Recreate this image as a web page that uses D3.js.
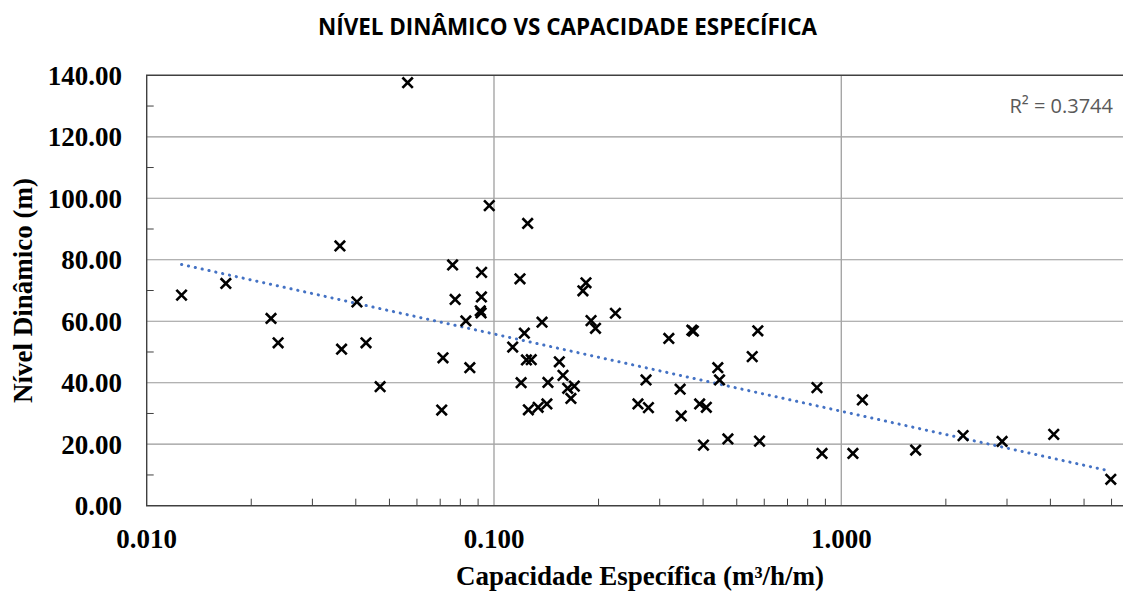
<!DOCTYPE html>
<html>
<head>
<meta charset="utf-8">
<script src="https://cdn.jsdelivr.net/npm/d3@7"></script>
<style>
  body { margin: 0; background: #fff; }
  svg { display: block; }
</style>
</head>
<body>
<div id="chart"></div>
<script>
// capacidade especifica (m3/h/m) and nivel dinamico (m)
const capEsp = [0.0126, 0.0169, 0.0228, 0.0239, 0.0360, 0.0364, 0.0403, 0.0428, 0.0470, 0.0564,
  0.0707, 0.0713, 0.0760, 0.0773, 0.0830, 0.0852, 0.0921, 0.0920, 0.0913, 0.0918,
  0.0969, 0.1188, 0.1250, 0.1223, 0.1132, 0.1240, 0.1280, 0.1197, 0.1256, 0.1340,
  0.1420, 0.1375, 0.1430, 0.1542, 0.1580, 0.1630, 0.1703, 0.1665, 0.1803, 0.1840,
  0.1903, 0.1960, 0.2237, 0.2597, 0.2740, 0.2784, 0.3187, 0.3713, 0.3750, 0.3435,
  0.3460, 0.3910, 0.4087, 0.4010, 0.4410, 0.4460, 0.4715, 0.5540, 0.5750, 0.5815,
  0.8510, 0.8800, 1.0800, 1.1500, 1.6370, 2.2420, 2.9040, 4.0900, 5.9700]
const nivelDin = [68.5, 72.3, 60.9, 53.0, 84.5, 50.9, 66.3, 53.0, 38.7, 137.6,
  31.1, 48.1, 78.3, 67.1, 60.1, 44.9, 75.9, 67.9, 63.4, 62.7,
  97.6, 73.8, 91.8, 56.1, 51.6, 47.4, 47.5, 40.0, 31.2, 32.0,
  33.1, 59.7, 40.1, 46.8, 42.4, 38.2, 38.9, 34.9, 69.9, 72.5,
  60.2, 57.7, 62.6, 33.1, 40.9, 31.9, 54.4, 57.1, 56.8, 37.9,
  29.2, 33.1, 32.0, 19.7, 44.9, 40.9, 21.7, 48.5, 56.9, 21.0,
  38.4, 17.0, 17.0, 34.4, 18.1, 22.8, 20.9, 23.2, 8.6]

const xTicks = [0.01, 0.1, 1, 10]
const yTicks = [0, 20, 40, 60, 80, 100, 120, 140]
const rSquared = "0.3744"

const width = 1123, height = 597
const plot = { left: 146.7, top: 75.3, bottom: 505.7, right: 1188.6 }

const data = capEsp.map((c, i) => ({ x: c, y: nivelDin[i] }))

const x = d3.scaleLog().domain([0.01, 10]).range([plot.left, plot.right])
const y = d3.scaleLinear().domain([0, 140]).range([plot.bottom, plot.top])

const svg = d3.select("#chart").append("svg")
  .attr("width", width)
  .attr("height", height)

// minor tick values
let minorX = []
xTicks.slice(0, -1).forEach(t => {
  for (let k = 2; k <= 9; k++) minorX.push(t * k)
})
const minorY = d3.range(10, 140, 20)

// grid
svg.append("g")
  .selectAll("line")
  .data(yTicks.filter(v => v > 0 && v < 140))
  .enter()
  .append("line")
    .attr("x1", plot.left).attr("x2", plot.right)
    .attr("y1", d => y(d)).attr("y2", d => y(d))
    .attr("stroke", "#999").attr("stroke-width", 1.2)

svg.append("g")
  .selectAll("line")
  .data(xTicks.slice(1))
  .enter()
  .append("line")
    .attr("x1", d => x(d)).attr("x2", d => x(d))
    .attr("y1", plot.top).attr("y2", plot.bottom)
    .attr("stroke", "#a6a6a6").attr("stroke-width", 1.4)

// minor ticks (inside)
svg.append("g")
  .selectAll("line")
  .data(minorX)
  .enter()
  .append("line")
    .attr("x1", d => x(d)).attr("x2", d => x(d))
    .attr("y1", plot.bottom).attr("y2", plot.bottom - 7)
    .attr("stroke", "#404040").attr("stroke-width", 1)

svg.append("g")
  .selectAll("line")
  .data(minorY)
  .enter()
  .append("line")
    .attr("x1", plot.left).attr("x2", plot.left + 7)
    .attr("y1", d => y(d)).attr("y2", d => y(d))
    .attr("stroke", "#404040").attr("stroke-width", 1)

// frame
svg.append("path")
  .attr("d", `M${plot.right},${plot.top}H${plot.left}V${plot.bottom}H${plot.right}`)
  .attr("fill", "none")
  .attr("stroke", "#404040")
  .attr("stroke-width", 1.4)

// logarithmic trend line fitted from the points
const lx = data.map(d => Math.log(d.x))
const mx = d3.mean(lx), my = d3.mean(data, d => d.y)
const slope = d3.sum(data, (d, i) => (lx[i] - mx) * (d.y - my)) / d3.sum(lx, v => (v - mx) * (v - mx))
const icpt = my - slope * mx
const xMin = d3.min(capEsp), xMax = d3.max(capEsp)
const trend = d3.range(0, 101).map(i => {
  const v = Math.exp(Math.log(xMin) + (Math.log(xMax) - Math.log(xMin)) * i / 100)
  return [v, icpt + slope * Math.log(v)]
})

svg.append("path")
  .datum(trend)
  .attr("d", d3.line().x(d => x(d[0])).y(d => y(d[1])))
  .attr("fill", "none")
  .attr("stroke", "#4472c4")
  .attr("stroke-width", 3)
  .attr("stroke-linecap", "round")
  .attr("stroke-dasharray", "0.2 6.8")

// markers
const s = 5.2
svg.append("g")
  .selectAll("path")
  .data(data)
  .enter()
  .append("path")
    .attr("d", d => {
      const cx = x(d.x), cy = y(d.y)
      return `M${cx - s},${cy - s}L${cx + s},${cy + s}M${cx - s},${cy + s}L${cx + s},${cy - s}`
    })
    .attr("stroke", "#000")
    .attr("stroke-width", 2.6)
    .attr("fill", "none")

// tick labels
svg.append("g")
  .selectAll("text")
  .data(yTicks)
  .enter()
  .append("text")
    .attr("x", 122)
    .attr("y", d => y(d))
    .attr("dy", "0.35em")
    .attr("text-anchor", "end")
    .attr("font-family", "Liberation Serif, Times New Roman, serif")
    .attr("font-weight", "bold")
    .attr("font-size", "27px")
    .attr("fill", "#000")
    .text(d => d3.format(".2f")(d))

svg.append("g")
  .selectAll("text")
  .data(xTicks.filter(v => x(v) < width))
  .enter()
  .append("text")
    .attr("x", d => x(d))
    .attr("y", 548)
    .attr("text-anchor", "middle")
    .attr("font-family", "Liberation Serif, Times New Roman, serif")
    .attr("font-weight", "bold")
    .attr("font-size", "27px")
    .attr("fill", "#000")
    .text(d => d3.format(".3f")(d))

// axis titles
svg.append("text")
  .attr("x", 640)
  .attr("y", 585)
  .attr("text-anchor", "middle")
  .attr("font-family", "Liberation Serif, Times New Roman, serif")
  .attr("font-weight", "bold")
  .attr("font-size", "27px")
  .text("Capacidade Específica (m³/h/m)")

svg.append("text")
  .attr("transform", "translate(32," + ((plot.top + plot.bottom) / 2) + ") rotate(-90)")
  .attr("text-anchor", "middle")
  .attr("font-family", "Liberation Serif, Times New Roman, serif")
  .attr("font-weight", "bold")
  .attr("font-size", "27px")
  .text("Nível Dinâmico (m)")

// title
svg.append("text")
  .attr("x", 318)
  .attr("y", 35)
  .attr("textLength", 499)
  .attr("lengthAdjust", "spacingAndGlyphs")
  .attr("font-family", "Open Sans, Noto Sans, sans-serif")
  .attr("font-weight", "bold")
  .attr("font-size", "24px")
  .attr("fill", "#000")
  .text("NÍVEL DINÂMICO VS CAPACIDADE ESPECÍFICA")

// r squared label
svg.append("text")
  .attr("x", 1113)
  .attr("y", 113)
  .attr("text-anchor", "end")
  .attr("font-family", "Open Sans, Noto Sans, sans-serif")
  .attr("font-size", "20px")
  .attr("fill", "#595959")
  .text("R² = " + rSquared)
</script>
</body>
</html>
